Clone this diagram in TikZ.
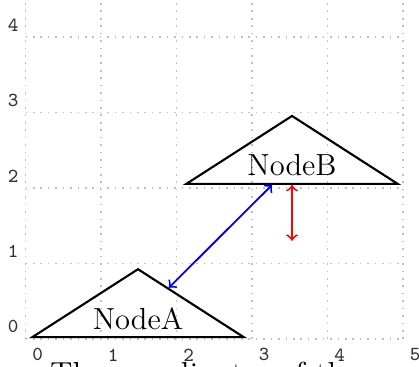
\documentclass[tikz,border=0pt]{standalone}
\usetikzlibrary{shapes.geometric}
\begin{document}
\begin{tikzpicture}[
  gridline/.style={draw=black!25, line width=0.6pt, dash pattern=on 0.6pt off 2.2pt},
  ticklabel/.style={font=\ttfamily\fontsize{7.5}{9}\selectfont, text=black!80, inner sep=0pt},
  tri/.style={draw, thick, isosceles triangle, shape border rotate=90,
    isosceles triangle apex angle=114, isosceles triangle stretches,
    minimum width=2.8cm, minimum height=0.9cm,
    inner sep=0pt, font=\fontsize{11.5}{13}\selectfont, anchor=lower side},
  link/.style={<->, line width=0.7pt}
]
\useasboundingbox (-0.338,-0.371) rectangle (5.212,4.49);
\draw[gridline] (0,0) grid (5,4.5);
\foreach \i in {0,...,5} \node[ticklabel] (xl\i) at (\i+0.16,-0.21) {\i};
\foreach \j in {0,...,4} \node[ticklabel] (yl\j) at (-0.165,\j+0.16) {\j};
\node[tri] (A) at (1.49,0.01) {NodeA};
\node[tri] (B) at (3.53,2.04) {NodeB};
\draw[link, blue] (A) -- (B);
\coordinate (Bend) at (3.53,1.30);
\draw[link, red] (B.lower side) -- (Bend);
\node[anchor=north west, inner sep=0pt, font=\fontsize{12}{14}\selectfont] (cap) at (0.32,-0.295) {The coordinates of the};
\end{tikzpicture}
\end{document}
